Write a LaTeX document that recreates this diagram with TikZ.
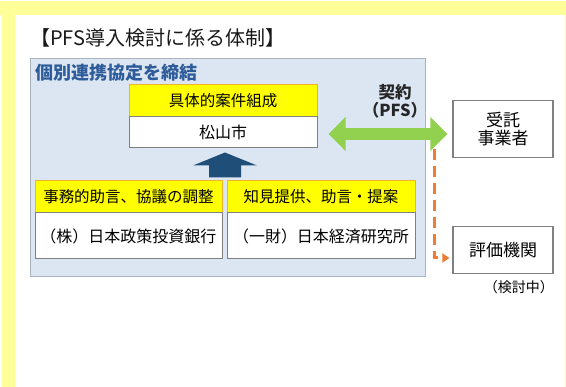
\documentclass[tikz,border=0pt]{standalone}
\usepackage{fontspec}
\setmainfont{Noto Sans CJK JP}
\usetikzlibrary{arrows.meta,calc}
\definecolor{frameyel}{RGB}{255,255,153}
\definecolor{panelblue}{RGB}{220,230,242}
\definecolor{panelline}{RGB}{170,180,190}
\definecolor{headyel}{RGB}{255,255,0}
\definecolor{headline}{RGB}{240,180,40}
\definecolor{boxline}{RGB}{128,128,128}
\definecolor{navy}{RGB}{31,78,121}
\definecolor{leaf}{RGB}{146,208,80}
\definecolor{tang}{RGB}{237,125,49}
\definecolor{labblue}{RGB}{46,92,154}
\tikzset{
  hdbox/.style={draw=headline, line width=0.8pt, fill=headyel, inner sep=0pt, font=\fontsize{15.5}{18}\selectfont},
  whbox/.style={draw=boxline, line width=1pt, fill=white, inner sep=0pt, font=\fontsize{16}{19}\selectfont},
  sidebox/.style={draw=boxline, line width=1.2pt, fill=white, inner sep=0pt, align=center, font=\fontsize{17}{20}\selectfont},
}
\begin{document}
\begin{tikzpicture}[x=1pt,y=-1pt]
\useasboundingbox (0,0) rectangle (566,387);
% yellow frame
\fill[frameyel] (0,1) rectangle (566,15);
\fill[frameyel] (2,1) rectangle (15,387);
\fill[frameyel] (564.5,1) rectangle (566,387);
% title
\node[anchor=west, inner sep=0pt, font=\fontsize{20}{24}\selectfont, text=black!90] (title) at (30,38) {【PFS導入検討に係る体制】};
% panel
\node[draw=panelline, line width=0.8pt, fill=panelblue, minimum width=395pt, minimum height=218pt, inner sep=0pt] (panel) at (227.5,167) {};
\node[anchor=west, inner sep=0pt, text=labblue, font=\fontsize{18}{20}\selectfont\bfseries] (plabel) at (35,73) {個別連携協定を締結};
% top box
\node[hdbox, minimum width=188pt, minimum height=33pt] (h1) at (223,100.5) {具体的案件組成};
\node[whbox, minimum width=188pt, minimum height=31pt] (w1) at (223,132.5) {松山市};
% bottom boxes
\node[hdbox, minimum width=187pt, minimum height=33pt] (h2) at (128.5,196.5) {事務的助言、協議の調整};
\node[whbox, minimum width=187pt, minimum height=46pt] (w2) at (128.5,236) {（株）日本政策投資銀行};
\node[hdbox, minimum width=188pt, minimum height=33pt] (h3) at (321,196.5) {知見提供、助言・提案};
\node[whbox, minimum width=188pt, minimum height=46pt] (w3) at (321,236) {（一財）日本経済研究所};
% navy block arrow (from the lower boxes up to the city box)
\fill[navy] ($(w1.south)+(-14,29)$) -- ++(0,-12) -- ++(-16,0) -- ($(w1.south)+(2,4)$) -- ($(w1.south)+(34,17)$) -- ++(-16,0) -- ++(0,12) -- cycle;
% right boxes
\node[sidebox, minimum width=100pt, minimum height=57pt] (ctr) at (503,129) {受託\\[-2pt]事業者};
\node[sidebox, minimum width=100pt, minimum height=47pt] (eva) at (503,250) {評価機関};
\node[anchor=east, inner sep=0pt, font=\fontsize{14}{16}\selectfont] (pend) at (554,287) {（検討中）};
% contract label
\node[inner sep=0pt, align=center, font=\fontsize{16.5}{19}\selectfont\bfseries, text=black!85] (clab) at (395,101) {契約\\[-1pt]（PFS）};
% green double arrow
\draw[leaf, line width=12pt, {Triangle[length=17pt,width=33pt]}-{Triangle[length=17pt,width=33pt]}] ([xshift=11pt,yshift=-1.5pt]w1.east) -- ([xshift=-5pt,yshift=-1.5pt]w1.east -| ctr.west);
% orange dashed
\coordinate (os) at (434,149);
\draw[tang, line width=3pt, dash pattern=on 11pt off 6pt, -{Triangle[length=7pt,width=9pt]}] (os) |- ([xshift=-3pt,yshift=-8pt]eva.west);
\end{tikzpicture}
\end{document}
